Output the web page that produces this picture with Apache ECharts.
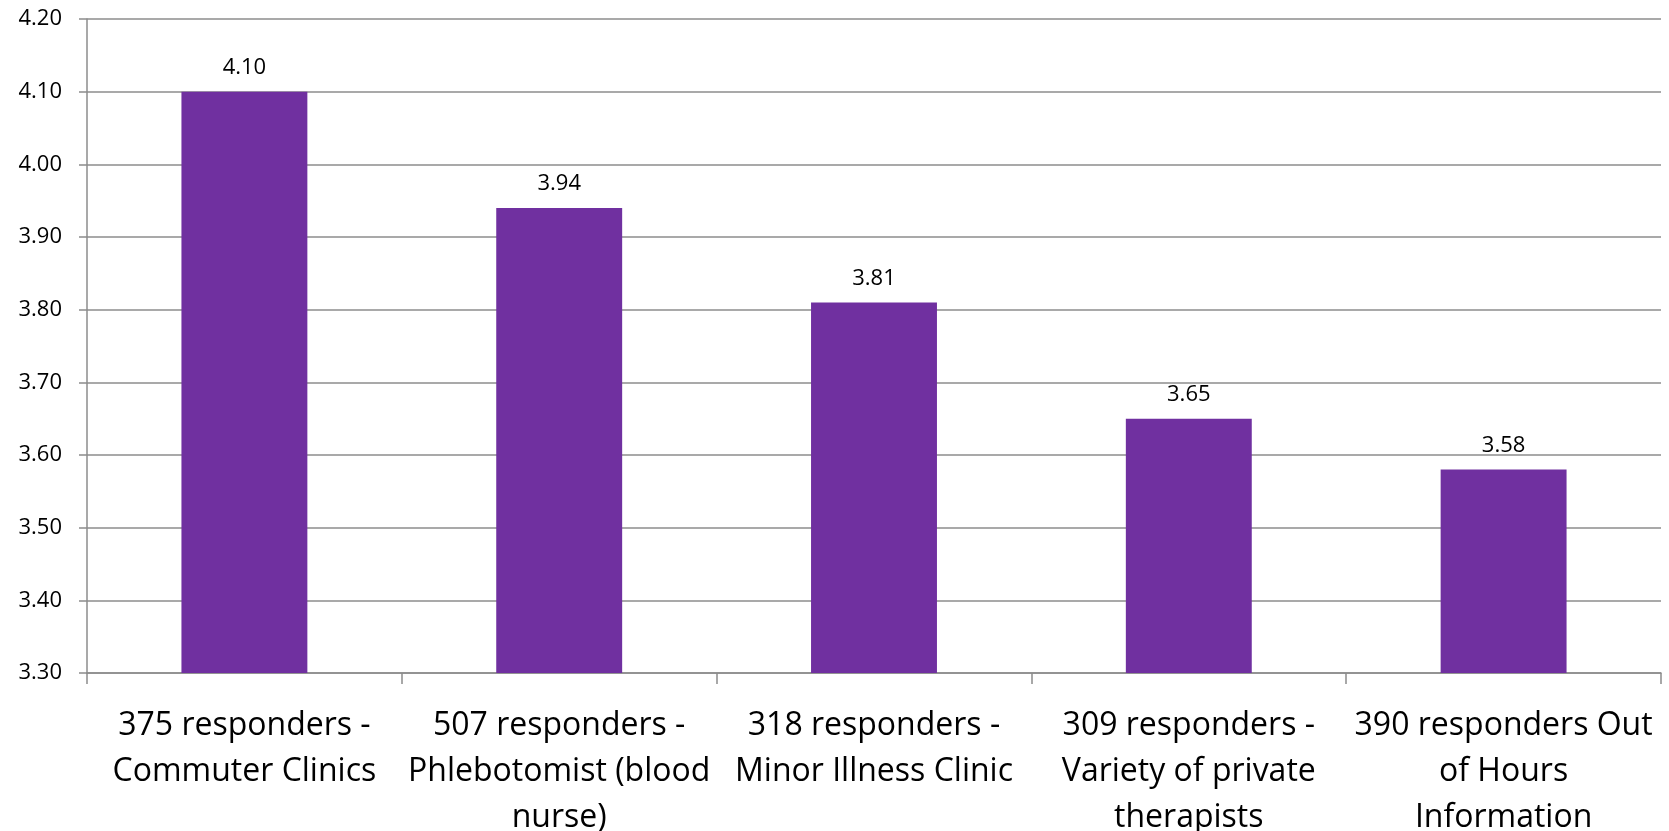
<!DOCTYPE html>
<html>
<head>
<meta charset="utf-8">
<script src="https://cdn.jsdelivr.net/npm/echarts@6/dist/echarts.min.js"></script>
<style>
  html, body { margin: 0; padding: 0; background: #fff; }
  #chart { width: 1669px; height: 831px; }
</style>
</head>
<body>
<div id="chart"></div>
<script>
// categories (line breaks as in the original)
var categories = [
  '375 responders -\nCommuter Clinics',
  '507 responders -\nPhlebotomist (blood\nnurse)',
  '318 responders -\nMinor Illness Clinic',
  '309 responders -\nVariety of private\ntherapists',
  '390 responders Out\nof Hours\nInformation'
];
var scores = [4.10, 3.94, 3.81, 3.65, 3.58];
var yMin = 3.3, yMax = 4.2, yStep = 0.1;

var chart = echarts.init(document.getElementById('chart'));
var option = {
  animation: false,
  grid: { left: 87, right: 8, top: 19, bottom: 158, containLabel: false, outerBoundsMode: 'none' },
  xAxis: {
    type: 'category',
    data: categories,
    axisLine: { show: true, lineStyle: { color: '#8c8c8c', width: 1.5 } },
    axisTick: { show: true, length: 11, lineStyle: { color: '#8c8c8c', width: 1.5 } },
    axisLabel: {
      interval: 0,
      margin: 30,
      color: '#000',
      fontFamily: 'Open Sans',
      fontSize: 32,
      lineHeight: 46
    }
  },
  yAxis: {
    type: 'value',
    min: yMin,
    max: yMax,
    interval: yStep,
    axisLine: { show: true, lineStyle: { color: '#8c8c8c', width: 1.5 } },
    axisTick: { show: true, length: 8, lineStyle: { color: '#8c8c8c', width: 1.5 } },
    splitLine: { show: true, lineStyle: { color: '#8c8c8c', width: 1.5 } },
    axisLabel: {
      margin: 25,
      color: '#000',
      fontFamily: 'Open Sans',
      fontSize: 22,
      formatter: function (v) { return v.toFixed(2); }
    }
  },
  series: [
    {
      type: 'bar',
      data: scores,
      barCategoryGap: '60%',
      itemStyle: { color: '#7030A0' },
      label: {
        show: true,
        position: 'top',
        distance: 13,
        color: '#000',
        fontFamily: 'Open Sans',
        fontSize: 22,
        formatter: function (p) { return p.value.toFixed(2); }
      }
    }
  ]
};
option && chart.setOption(option);
</script>
</body>
</html>
